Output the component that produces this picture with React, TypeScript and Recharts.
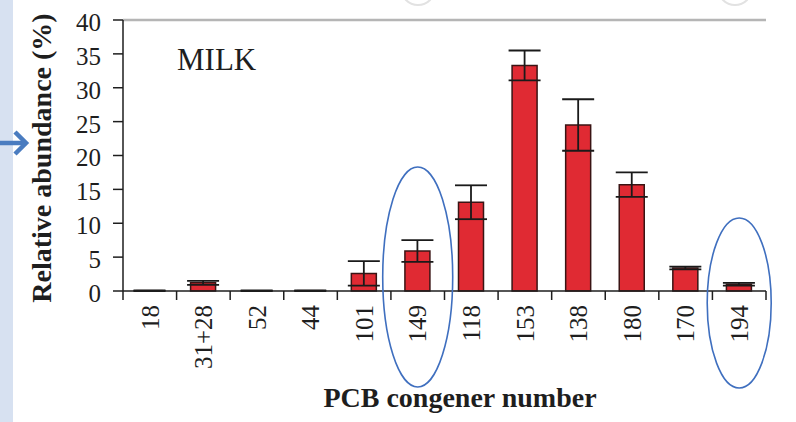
import React from "react";
import {
  BarChart,
  Bar,
  XAxis,
  YAxis,
  ErrorBar,
  ReferenceLine,
  Label,
} from "recharts";

// ---------------------------------------------------------------------------
// Data
// ---------------------------------------------------------------------------

const congeners = ["18", "31+28", "52", "44", "101", "149", "118", "153", "138", "180", "170", "194"];
const abundance = [0.05, 1.2, 0.05, 0.05, 2.6, 5.9, 13.1, 33.3, 24.5, 15.7, 3.4, 1.0];
const errors = [0.05, 0.3, 0.05, 0.05, 1.8, 1.6, 2.5, 2.2, 3.8, 1.8, 0.2, 0.2];
const yTicks = [0, 5, 10, 15, 20, 25, 30, 35, 40];
const circled = ["149", "194"];

// ---------------------------------------------------------------------------
// Layout
// ---------------------------------------------------------------------------

const W = 796;
const H = 422;
const MARGIN = { top: 20, right: 30, left: 0, bottom: 0 };
const Y_AXIS_W = 123;
const X_AXIS_H = 131;
const PLOT_LEFT = MARGIN.left + Y_AXIS_W;
const PLOT_RIGHT = W - MARGIN.right;
const BAND = (PLOT_RIGHT - PLOT_LEFT) / congeners.length;

const SERIF = "'Liberation Serif', 'Times New Roman', serif";
const INK = "#1e1e1e";

const chartData = congeners.map((name, i) => ({
  name,
  value: abundance[i],
  err: errors[i],
}));

// ---------------------------------------------------------------------------
// X tick: boundary tick marks + rotated label
// ---------------------------------------------------------------------------

function CongenerTick(props: { x?: number; y?: number; index?: number; payload?: { value: string } }) {
  const { x = 0, y = 0, index = 0, payload } = props;
  const left = x - BAND / 2;
  const right = x + BAND / 2;
  const ty = y + 14;
  return (
    <g>
      <line x1={left} y1={y} x2={left} y2={y + 9} stroke={INK} strokeWidth={1.5} />
      {index === congeners.length - 1 && (
        <line x1={right} y1={y} x2={right} y2={y + 9} stroke={INK} strokeWidth={1.5} />
      )}
      <text
        x={x}
        y={ty}
        dy="0.35em"
        transform={`rotate(-90, ${x}, ${ty})`}
        textAnchor="end"
        fontFamily={SERIF}
        fontSize={25}
        fill={INK}
      >
        {payload?.value}
      </text>
    </g>
  );
}

// ---------------------------------------------------------------------------
// Overlay (slide decorations and hand-drawn ellipses)
// ---------------------------------------------------------------------------

function Overlay() {
  return (
    <svg
      width={W}
      height={H}
      style={{ position: "absolute", left: 0, top: 0, pointerEvents: "none" }}
    >
      <rect x={0} y={0} width={13} height={H} fill="#d7e1f1" />
      <g stroke="#4a7cc0" strokeWidth={4.5} fill="none" strokeLinecap="butt">
        <line x1={0} y1={143} x2={25} y2={143} />
        <polyline points="15,132 26,143 15,154" strokeLinejoin="miter" />
      </g>
      <circle cx={418} cy={-12} r={17} fill="none" stroke="#e2e2e2" strokeWidth={2} />
      <circle cx={735} cy={-12} r={17} fill="none" stroke="#e2e2e2" strokeWidth={2} />
      <text x={177} y={70} fontFamily={SERIF} fontSize={31} fill={INK}>
        MILK
      </text>
      {circled.map((c) => {
        const i = congeners.indexOf(c);
        const cx = PLOT_LEFT + (i + 0.5) * BAND;
        const tall = i === 5;
        return (
          <ellipse
            key={c}
            cx={cx}
            cy={tall ? 277 : 303}
            rx={tall ? 35 : 32}
            ry={tall ? 110 : 85}
            fill="none"
            stroke="#3f6fbf"
            strokeWidth={1.6}
          />
        );
      })}
    </svg>
  );
}

// ---------------------------------------------------------------------------
// App
// ---------------------------------------------------------------------------

export default function App() {
  return (
    <div
      style={{
        position: "absolute",
        left: 0,
        top: 0,
        width: W,
        height: H,
        background: "#ffffff",
        overflow: "hidden",
      }}
    >
      <BarChart width={W} height={H} data={chartData} margin={MARGIN}>
        <XAxis
          dataKey="name"
          height={X_AXIS_H}
          interval={0}
          tickLine={false}
          tickSize={0}
          tickMargin={0}
          axisLine={{ stroke: INK, strokeWidth: 1.5 }}
          tick={<CongenerTick />}
        >
          <Label
            content={() => (
              <text
                x={460}
                y={407}
                textAnchor="middle"
                fontFamily={SERIF}
                fontWeight="bold"
                fontSize={28}
                fill={INK}
              >
                PCB congener number
              </text>
            )}
          />
        </XAxis>
        <YAxis
          yAxisId="left"
          width={Y_AXIS_W}
          domain={[0, 40]}
          ticks={yTicks}
          interval={0}
          tickSize={10}
          tickMargin={12}
          axisLine={{ stroke: INK, strokeWidth: 1.5 }}
          tickLine={{ stroke: INK, strokeWidth: 1.5 }}
          tick={{ fontFamily: SERIF, fontSize: 25, fill: INK, dy: 2 }}
        >
          <Label
            content={() => (
              <text
                x={51}
                y={158}
                transform="rotate(-90, 51, 158)"
                textAnchor="middle"
                fontFamily={SERIF}
                fontWeight="bold"
                fontSize={28}
                fill={INK}
              >
                Relative abundance (%)
              </text>
            )}
          />
        </YAxis>
        <YAxis
          yAxisId="frame"
          orientation="right"
          width={0}
          domain={[0, 40]}
          tick={false}
          tickLine={false}
          axisLine={{ stroke: "#b5b5b5", strokeWidth: 2 }}
        />
        <ReferenceLine yAxisId="left" y={40} stroke="#b5b5b5" strokeWidth={2.5} />
        <Bar
          yAxisId="left"
          dataKey="value"
          barSize={25}
          fill="#e02a33"
          stroke="#3a1414"
          strokeWidth={1.5}
          isAnimationActive={false}
        >
          <ErrorBar dataKey="err" width={16} stroke="#1a1a1a" strokeWidth={1.8} />
        </Bar>
      </BarChart>
      <Overlay />
    </div>
  );
}
